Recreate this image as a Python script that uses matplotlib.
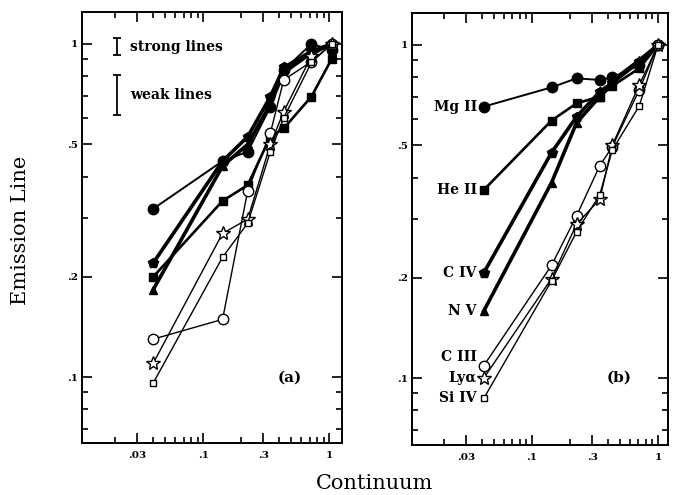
import matplotlib
matplotlib.use('Agg')
import matplotlib.pyplot as plt
from matplotlib.ticker import FixedLocator, NullFormatter, LogLocator

# continuum levels (x) for each panel
cont_a = [0.040, 0.142, 0.225, 0.34, 0.434, 0.72, 1.04]
cont_b = [0.0415, 0.143, 0.226, 0.345, 0.434, 0.71, 1.0]

# panel (a) emission line fluxes
mg2_a = [0.32, 0.445, 0.475, 0.648, 0.835, 1.0, 0.96]
he2_a = [0.20, 0.338, 0.377, 0.527, 0.558, 0.695, 0.90]
c4_a = [0.22, 0.445, 0.527, 0.695, 0.85, 0.95, 1.0]
n5_a = [0.183, 0.43, 0.50, 0.66, 0.82, 0.94, 1.0]
c3_a = [0.13, 0.149, 0.363, 0.54, 0.78, 0.885, 1.0]
lya_a = [0.11, 0.27, 0.298, 0.50, 0.626, 0.92, 1.0]
si4_a = [0.096, 0.229, 0.29, 0.475, 0.60, 0.88, 1.0]

# panel (b) emission line fluxes
mg2_b = [0.653, 0.746, 0.794, 0.785, 0.80, 0.87, 1.0]
he2_b = [0.367, 0.593, 0.668, 0.70, 0.753, 0.851, 1.0]
c4_b = [0.207, 0.475, 0.609, 0.724, 0.77, 0.89, 1.0]
n5_b = [0.159, 0.386, 0.584, 0.70, 0.78, 0.90, 1.0]
c3_b = [0.109, 0.218, 0.307, 0.434, 0.495, 0.733, 1.0]
lya_b = [0.100, 0.199, 0.29, 0.344, 0.50, 0.759, 1.0]
si4_b = [0.0869, 0.196, 0.275, 0.355, 0.484, 0.656, 1.0]

names = ['Mg II', 'He II', 'C IV', 'N V', 'C III', 'Lyα', 'Si IV']
series_a = [mg2_a, he2_a, c4_a, n5_a, c3_a, lya_a, si4_a]
series_b = [mg2_b, he2_b, c4_b, n5_b, c3_b, lya_b, si4_b]

# typical error bars (low, high)
strong_err = (0.927, 1.04)
weak_err = (0.612, 0.807)
err_x = 0.0208

xticks = [0.03, 0.1, 0.3, 1]
xticklabels = ['.03', '.1', '.3', '1']
yticks = [0.1, 0.2, 0.5, 1]
yticklabels = ['.1', '.2', '.5', '1']

# style per line: marker, filled, linewidth, markersize
styles = [
    ('o', True, 1.4, 7.5),
    ('s', True, 1.9, 5.5),
    ('p', True, 2.6, 7.0),
    ('^', True, 2.6, 6.0),
    ('o', False, 1.0, 7.5),
    ('*', False, 1.0, 10.0),
    ('s', False, 1.0, 5.0),
]

serif = 'DejaVu Serif'

fig = plt.figure(figsize=(6.74, 4.95), dpi=100)
ax_a = fig.add_axes([0.1217, 0.105, 0.3858, 0.8707])
ax_b = fig.add_axes([0.6113, 0.101, 0.3798, 0.8727])


def draw(ax, xs, series):
    for ys, (m, filled, lw, ms) in zip(series, styles):
        ax.plot(xs, ys, color='black', lw=lw, marker=m, ms=ms,
                mfc='black' if filled else 'white', mec='black',
                mew=1.0, solid_joinstyle='round')


def setup(ax, xlim, ylim):
    ax.set_xscale('log')
    ax.set_yscale('log')
    ax.set_xlim(*xlim)
    ax.set_ylim(*ylim)
    ax.xaxis.set_major_locator(FixedLocator(xticks))
    ax.set_xticklabels(xticklabels)
    ax.yaxis.set_major_locator(FixedLocator(yticks))
    ax.set_yticklabels(yticklabels)
    ax.xaxis.set_minor_locator(LogLocator(base=10, subs=range(2, 10)))
    ax.yaxis.set_minor_locator(LogLocator(base=10, subs=range(2, 10)))
    ax.xaxis.set_minor_formatter(NullFormatter())
    ax.yaxis.set_minor_formatter(NullFormatter())
    ax.tick_params(which='both', direction='in', top=True, right=True, width=1.2)
    ax.tick_params(which='major', length=7, labelsize=7.5)
    ax.tick_params(axis='x', which='major', pad=6)
    ax.tick_params(axis='y', which='major', pad=3)
    ax.tick_params(which='minor', length=4)
    for lab in ax.get_xticklabels() + ax.get_yticklabels():
        lab.set_fontfamily(serif)
        lab.set_fontweight('bold')
    for sp in ax.spines.values():
        sp.set_linewidth(1.4)


setup(ax_a, (0.0109, 1.26), (0.0634, 1.247))
setup(ax_b, (0.0112, 1.2), (0.063, 1.247))

draw(ax_a, cont_a, series_a)
draw(ax_b, cont_b, series_b)

# error bar key in panel (a)
for (lo, hi), txt in [(strong_err, 'strong lines'), (weak_err, 'weak lines')]:
    mid = (lo * hi) ** 0.5
    ax_a.errorbar([err_x], [mid], yerr=[[mid - lo], [hi - mid]], fmt='none',
                  ecolor='black', elinewidth=1.3, capsize=3, capthick=1.3)
    ax_a.annotate(txt, (err_x, mid), xytext=(9, 0), textcoords='offset points',
                  ha='left', va='center', fontsize=10, fontweight='bold',
                  family=serif)

# line names in panel (b)
for name, ys in zip(names, series_b):
    dy = 6 if name == 'C III' else 0
    ax_b.annotate(name, (cont_b[0], ys[0]), xytext=(-5, dy),
                  textcoords='offset points', ha='right', va='center',
                  fontsize=10, fontweight='bold', family=serif)

ax_a.text(0.80, 0.151, '(a)', transform=ax_a.transAxes, ha='center',
          va='center', fontsize=11, fontweight='bold', family=serif)
ax_b.text(0.809, 0.155, '(b)', transform=ax_b.transAxes, ha='center',
          va='center', fontsize=11, fontweight='bold', family=serif)

fig.text(0.03, 0.535, 'Emission Line', rotation=90, ha='center', va='center',
         fontsize=15, family=serif)
fig.text(0.556, 0.024, 'Continuum', ha='center', va='center',
         fontsize=15, family=serif)

fig.savefig('out.png', dpi=100)
